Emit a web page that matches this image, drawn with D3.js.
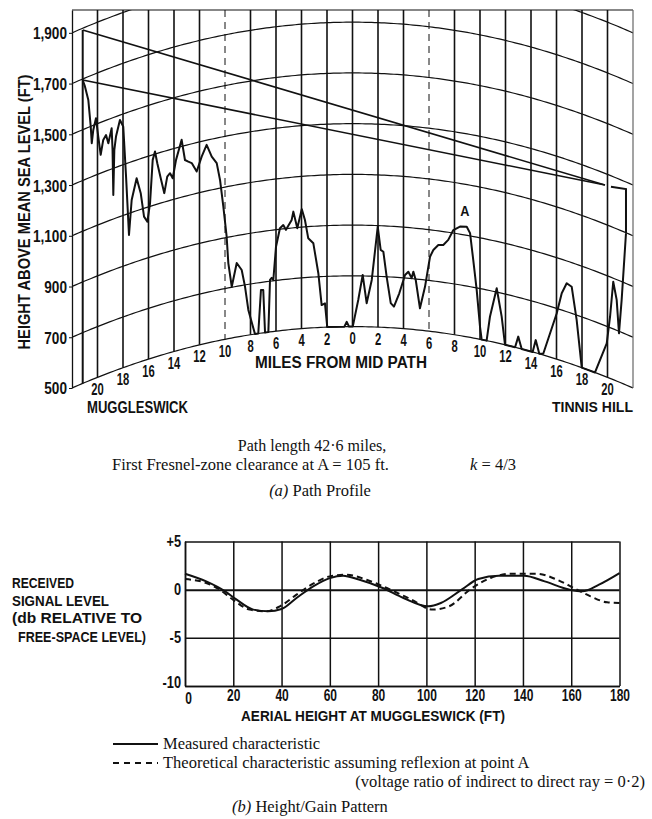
<!DOCTYPE html>
<html><head><meta charset="utf-8">
<script src="https://cdn.jsdelivr.net/npm/d3@7"></script>
<style>
html,body{margin:0;padding:0;background:#fff;}
svg{display:block;background:#fff;}
.cond{font-family:"Liberation Sans",Arial,"DejaVu Sans",sans-serif;font-weight:bold;fill:#111;}
.serif{font-family:"Liberation Serif","Times New Roman",serif;fill:#111;}
</style></head><body>
<svg id="c" width="652" height="819"></svg>
<script>
// ---------- (a) Path profile data ----------
const profileMiles = [-21.16,-20.98,-20.72,-20.53,-20.45,-20.33,-20.12,-19.94,-19.75,-19.55,-19.33,-19.15,-18.89,-18.82,-18.76,-18.68,-18.55,-18.24,-17.98,-17.76,-17.53,-17.32,-16.93,-16.61,-16.35,-16.09,-15.88,-15.67,-15.49,-15.31,-15.04,-14.76,-14.53,-14.31,-14.10,-13.84,-13.40,-13.14,-12.88,-12.61,-12.22,-11.83,-11.44,-11.04,-10.65,-10.39,-10.13,-9.87,-9.74,-9.47,-9.08,-8.69,-8.43,-8.17,-7.65,-7.39,-7.18,-7.00,-6.86,-6.60,-6.47,-6.34,-6.21,-6.00,-5.69,-5.43,-5.22,-4.77,-4.64,-4.33,-3.98,-3.73,-3.47,-3.07,-2.68,-2.42,-2.16,-1.98,-0.64,-0.45,-0.27,0.02,0.45,0.80,1.11,1.51,1.98,2.21,2.42,2.68,3.00,3.25,3.67,4.12,4.38,4.64,4.77,4.96,5.29,5.69,6.08,6.34,6.73,7.12,7.51,7.91,8.43,8.96,9.22,9.47,9.74,10.00,10.13,10.52,10.78,11.31,11.70,11.96,12.75,13.00,13.27,14.13,14.37,14.65,14.96,16.02,16.41,16.80,17.19,17.58,17.98,19.02,19.94,20.20,20.45,20.72,20.90,21.11,21.45];
const profileHeights = [1696,1666,1608,1499,1432,1482,1524,1448,1372,1427,1442,1406,1460,1373,1195,1371,1421,1481,1450,1249,1015,1149,1228,1164,1067,1043,1112,1280,1310,1261,1198,1135,1197,1207,1184,1253,1326,1243,1233,1224,1186,1240,1282,1231,1201,1132,1024,903,798,702,792,761,693,599,500,500,670,669,500,500,705,712,703,833,904,915,895,932,964,897,971,927,854,833,714,588,594,500,500,519,500,500,605,704,593,685,896,805,798,700,597,584,638,712,726,702,728,696,586,674,794,822,844,847,870,912,930,934,911,808,692,550,500,500,597,715,608,500,500,545,500,500,550,500,505,681,766,812,805,681,500,500,633,743,886,820,692,828,1098];
const heightLevels = [500,700,900,1100,1300,1500,1700,1900];
const mileGrid = [-20,-18,-16,-14,-12,-10,-8,-6,-4,-2,0,2,4,6,8,10,12,14,16,18,20];
const dashedMiles = [-10,6];
const muggleswickMile = -21.16, muggleswickTop = 1893;
const rayStartHeights = [1893,1696];
const rayEndMile = 19.8, rayEndHeight = 1254;
const tinnisBar = [[20.27,1257],[21.45,1272],[21.45,1098]];
const pointA = [8.96,934];

// ---------- (b) Height/gain data ----------
const measuredFt = [0,8.8,16.6,21.4,28.3,34.5,40,46.2,53.1,60,65.5,72,81.9,90.5,100.8,106,114.6,121.5,130,140.5,149,159.4,164.6,171.5,180];
const measuredDb = [1.66,0.86,-0.17,-1.04,-2.07,-2.24,-2.0,-0.86,0.34,1.2,1.45,1.05,0.17,-0.86,-1.73,-1.38,0,1.1,1.45,1.45,0.86,0,-0.17,0.52,1.72];
const theoryFt = [0,8.8,14.4,19.9,26.8,33.7,39.3,46.2,53.1,60,66.9,75.2,83.6,93.9,102.5,109.4,118,126.6,135.3,145.6,154.2,161.1,168,174.9,180];
const theoryDb = [1.1,0.69,0,-1.04,-2.07,-2.24,-1.73,-0.52,0.62,1.38,1.55,1.03,0.17,-1.04,-2.07,-1.73,0,1.21,1.66,1.66,1.03,0.17,-0.69,-1.31,-1.38];
const gainXTicks = [0,20,40,60,80,100,120,140,160,180];
const gainYTicks = [5,0,-5,-10];
const gainYLabels = ["+5","0","-5","-10"];

const svg = d3.select("#c");
const INK = "#111";
function condense(sel, f){ sel.each(function(){ const w=this.getComputedTextLength(); d3.select(this).attr("textLength",w*f).attr("lengthAdjust","spacingAndGlyphs"); }); }
function fitTo(sel, w){ sel.attr("textLength",w).attr("lengthAdjust","spacingAndGlyphs"); }

// ================= (a) =================
const R = 22;
const x = d3.scaleLinear().domain([-R,R]).range([72,633]);
const y = d3.scaleLinear().domain([500,1990]).range([388,10]);
const bulge = m => (R*R - m*m)/2;           // k = 4/3 earth bulge, ft
const P = (m,h) => [x(m), y(h + bulge(m))];

svg.append("clipPath").attr("id","pc").append("rect")
  .attr("x",72).attr("y",y(1990)).attr("width",x(R)-x(-R)).attr("height",400);

const gA = svg.append("g");
const grid = gA.append("g").attr("clip-path","url(#pc)");
const arcM = d3.range(-R, R+0.001, 0.25);
heightLevels.forEach(h=>{
  grid.append("path").attr("d", d3.line()(arcM.map(m=>P(m,h))))
    .attr("fill","none").attr("stroke",INK).attr("stroke-width",1.2);
});
mileGrid.forEach(m=>{
  const b = P(m,500);
  grid.append("line").attr("x1",x(m)).attr("x2",x(m)).attr("y1",y(1990)).attr("y2",b[1])
    .attr("stroke",INK).attr("stroke-width", dashedMiles.includes(m)?1:1.6)
    .attr("stroke-dasharray", dashedMiles.includes(m)?"7,5":null);
});
gA.append("line").attr("x1",x(-R)).attr("x2",x(R)).attr("y1",y(1990)).attr("y2",y(1990)).attr("stroke",INK).attr("stroke-width",1.2);
gA.append("line").attr("x1",x(R)).attr("x2",x(R)).attr("y1",y(1990)).attr("y2",y(500)).attr("stroke","#666").attr("stroke-width",1.2);
const axL = gA.append("g").attr("transform",`translate(${x(-R)},0)`)
  .call(d3.axisLeft(y).tickValues(heightLevels).tickFormat(d3.format(",")).tickSize(3).tickSizeOuter(0).tickPadding(2));
axL.select(".domain").attr("stroke",INK).attr("stroke-width",1.3);
axL.selectAll("line").attr("stroke",INK);
axL.selectAll("text").attr("class","cond").attr("font-family",null).attr("font-size",null).style("font-size","17px").attr("dy","0.35em");
condense(axL.selectAll("text"),0.8);

gA.append("line").attr("x1",x(muggleswickMile)).attr("x2",x(muggleswickMile))
  .attr("y1",P(muggleswickMile,muggleswickTop)[1]).attr("y2",P(muggleswickMile,500)[1])
  .attr("stroke",INK).attr("stroke-width",2);
rayStartHeights.forEach(h=>{
  const a = P(muggleswickMile,h), b = P(rayEndMile,rayEndHeight);
  gA.append("line").attr("x1",a[0]).attr("y1",a[1]).attr("x2",b[0]).attr("y2",b[1])
    .attr("stroke",INK).attr("stroke-width",1.6);
});
gA.append("path").attr("d", d3.line()(tinnisBar.map(d=>P(d[0],d[1]))))
  .attr("fill","none").attr("stroke",INK).attr("stroke-width",2);
gA.append("path").attr("d", d3.line()(profileMiles.map((m,i)=>P(m,profileHeights[i]))))
  .attr("fill","none").attr("stroke",INK).attr("stroke-width",2).attr("stroke-linejoin","round");
const pa = P(pointA[0],pointA[1]);
condense(gA.append("text").attr("class","cond").attr("x",pa[0]-2).attr("y",pa[1]-11)
  .attr("text-anchor","middle").style("font-size","15px").text("A"),0.85);
const ml = gA.append("g");
mileGrid.forEach(m=>{
  const b = P(m,500);
  ml.append("text").attr("class","cond").attr("x",x(m)).attr("y",b[1]+17.5)
    .attr("text-anchor","middle").style("font-size","17px").text(Math.abs(m));
});
condense(ml.selectAll("text"),0.66);
fitTo(gA.append("text").attr("class","cond").attr("x",341).attr("y",368).attr("text-anchor","middle")
  .style("font-size","16px").text("MILES FROM MID PATH"),172);
fitTo(gA.append("text").attr("class","cond").attr("x",87).attr("y",413)
  .style("font-size","16px").text("MUGGLESWICK"),101);
fitTo(gA.append("text").attr("class","cond").attr("x",552).attr("y",412)
  .style("font-size","15.5px").text("TINNIS HILL"),81);
fitTo(gA.append("text").attr("class","cond").attr("transform","translate(30,212) rotate(-90)")
  .attr("text-anchor","middle").style("font-size","16px").text("HEIGHT ABOVE MEAN SEA LEVEL (FT)"),275);

// captions (a)
svg.append("text").attr("class","serif").attr("x",312).attr("y",451).attr("text-anchor","middle")
  .style("font-size","16px").text("Path length 42·6 miles,");
const cap2 = svg.append("text").attr("class","serif").attr("x",112).attr("y",470).style("font-size","16.5px");
cap2.append("tspan").text("First Fresnel-zone clearance at A = 105 ft.");
cap2.append("tspan").attr("x",470).style("font-style","italic").text("k");
cap2.append("tspan").text(" = 4/3");
const cap3 = svg.append("text").attr("class","serif").attr("x",320).attr("y",496).attr("text-anchor","middle").style("font-size","16.5px");
cap3.append("tspan").style("font-style","italic").text("(a)");
cap3.append("tspan").text("  Path Profile");

// ================= (b) =================
const gx = d3.scaleLinear().domain([0,180]).range([185,619.5]);
const gy = d3.scaleLinear().domain([-10,5]).range([686,541.5]);
const gB = svg.append("g");
const axB = gB.append("g").attr("transform",`translate(0,${gy(-10)})`)
  .call(d3.axisBottom(gx).tickValues(gainXTicks).tickSize(-(gy(-10)-gy(5))).tickSizeOuter(0).tickPadding(4));
axB.selectAll("line").attr("stroke",INK).attr("stroke-width",1.5);
axB.select(".domain").attr("stroke",INK).attr("stroke-width",1.5);
axB.selectAll("text").attr("class","cond").style("font-size","16px");
axB.selectAll(".tick").filter(d=>d===0).select("text").attr("dx","3").attr("dy","0.85em");
condense(axB.selectAll("text"),0.75);
const axY = gB.append("g").attr("transform",`translate(${gx(0)},0)`)
  .call(d3.axisLeft(gy).tickValues(gainYTicks).tickFormat((d,i)=>gainYLabels[i]).tickSize(-(gx(180)-gx(0))).tickSizeOuter(0).tickPadding(4));
axY.selectAll("line").attr("stroke",INK).attr("stroke-width",d=>d===0?2:1.5);
axY.select(".domain").attr("stroke",INK).attr("stroke-width",1.5);
axY.selectAll("text").attr("class","cond").style("font-size","16px");
axY.selectAll(".tick").filter(d=>d===-10).select("text").attr("dy","0.1em");
condense(axY.selectAll("text"),0.8);

const lineG = d3.line().curve(d3.curveMonotoneX);
gB.append("path").attr("d", lineG(measuredFt.map((f,i)=>[gx(f),gy(measuredDb[i])])))
  .attr("fill","none").attr("stroke",INK).attr("stroke-width",2);
gB.append("path").attr("d", lineG(theoryFt.map((f,i)=>[gx(f),gy(theoryDb[i])])))
  .attr("fill","none").attr("stroke",INK).attr("stroke-width",2).attr("stroke-dasharray","6,4");

const ylab = [["RECEIVED",12,588,62],["SIGNAL LEVEL",12,606,97],["(db  RELATIVE TO",12,623,130],["FREE-SPACE LEVEL)",18,642,128]];
ylab.forEach(d=>{
  fitTo(gB.append("text").attr("class","cond").attr("x",d[1]).attr("y",d[2]).style("font-size","15.5px").text(d[0]),d[3]);
});
fitTo(gB.append("text").attr("class","cond").attr("x",241).attr("y",721).style("font-size","15.5px")
  .text("AERIAL HEIGHT AT MUGGLESWICK (FT)"),264);

// legend
gB.append("line").attr("x1",113).attr("x2",158).attr("y1",744).attr("y2",744).attr("stroke",INK).attr("stroke-width",1.8);
gB.append("text").attr("class","serif").attr("x",163).attr("y",749).style("font-size","16.5px").text("Measured characteristic");
gB.append("line").attr("x1",113).attr("x2",158).attr("y1",763).attr("y2",763).attr("stroke",INK).attr("stroke-width",1.8).attr("stroke-dasharray","6,5");
gB.append("text").attr("class","serif").attr("x",163).attr("y",768).style("font-size","16.5px").text("Theoretical characteristic assuming reflexion at point A");
gB.append("text").attr("class","serif").attr("x",645).attr("y",787).attr("text-anchor","end").style("font-size","16.5px").text("(voltage ratio of indirect to direct ray = 0·2)");
const capB = gB.append("text").attr("class","serif").attr("x",232).attr("y",812).style("font-size","16.5px");
capB.append("tspan").style("font-style","italic").text("(b)");
capB.append("tspan").text("  Height/Gain Pattern");
</script></body></html>
